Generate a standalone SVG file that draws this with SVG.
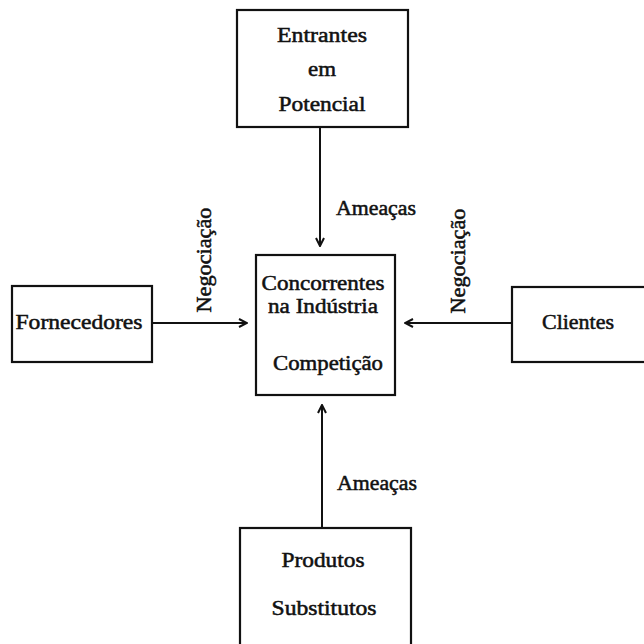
<svg xmlns="http://www.w3.org/2000/svg" width="644" height="644" viewBox="0 0 644 644">
<style>
.box{fill:#fff;stroke:#111;stroke-width:2.2}
.t{font-family:"Liberation Serif","Times New Roman",serif;font-size:20px;fill:#111;stroke:#111;stroke-width:0.5;text-anchor:middle}
.c{stroke:#111;stroke-width:2;fill:none}
</style>
<defs>
<marker id="ah" viewBox="0 0 10 10" refX="9" refY="5" markerWidth="10" markerHeight="10" markerUnits="userSpaceOnUse" orient="auto">
<path d="M1,1 L9,5 L1,9" fill="none" stroke="#111" stroke-width="2"/>
</marker>
</defs>
<rect width="644" height="644" fill="#fff"/>
<g id="connectors">
<line class="c" x1="320" y1="127" x2="320" y2="246" marker-end="url(#ah)"/>
<line class="c" x1="152" y1="323" x2="247" y2="323" marker-end="url(#ah)"/>
<line class="c" x1="512" y1="323" x2="405" y2="323" marker-end="url(#ah)"/>
<line class="c" x1="322" y1="528" x2="322" y2="405" marker-end="url(#ah)"/>
<text class="t" x="376" y="215" textLength="80" lengthAdjust="spacingAndGlyphs">Ameaças</text>
<text class="t" x="377" y="490" textLength="80" lengthAdjust="spacingAndGlyphs">Ameaças</text>
<text class="t" transform="translate(211,260) rotate(-90)" x="0" y="0" textLength="105" lengthAdjust="spacingAndGlyphs">Negociação</text>
<text class="t" transform="translate(465,261) rotate(-90)" x="0" y="0" textLength="105" lengthAdjust="spacingAndGlyphs">Negociação</text>
</g>
<g id="entrantes">
<rect class="box" x="237" y="10" width="171" height="117"/>
<text class="t" x="322" y="42" textLength="90" lengthAdjust="spacingAndGlyphs">Entrantes</text>
<text class="t" x="322" y="76" textLength="28" lengthAdjust="spacingAndGlyphs">em</text>
<text class="t" x="322" y="111" textLength="87" lengthAdjust="spacingAndGlyphs">Potencial</text>
</g>
<g id="fornecedores">
<rect class="box" x="12" y="286" width="140" height="76"/>
<text class="t" x="79" y="329" textLength="127" lengthAdjust="spacingAndGlyphs">Fornecedores</text>
</g>
<g id="concorrentes">
<rect class="box" x="256" y="255" width="139" height="140"/>
<text class="t" x="323" y="290" textLength="123" lengthAdjust="spacingAndGlyphs">Concorrentes</text>
<text class="t" x="323" y="313" textLength="110" lengthAdjust="spacingAndGlyphs">na Indústria</text>
<text class="t" x="328" y="370" textLength="110" lengthAdjust="spacingAndGlyphs">Competição</text>
</g>
<g id="clientes">
<rect class="box" x="512" y="287" width="140" height="75"/>
<text class="t" x="578" y="329" textLength="72" lengthAdjust="spacingAndGlyphs">Clientes</text>
</g>
<g id="substitutos">
<rect class="box" x="240" y="528" width="171" height="130"/>
<text class="t" x="323" y="567" textLength="83" lengthAdjust="spacingAndGlyphs">Produtos</text>
<text class="t" x="324" y="615" textLength="105" lengthAdjust="spacingAndGlyphs">Substitutos</text>
</g>
</svg>
